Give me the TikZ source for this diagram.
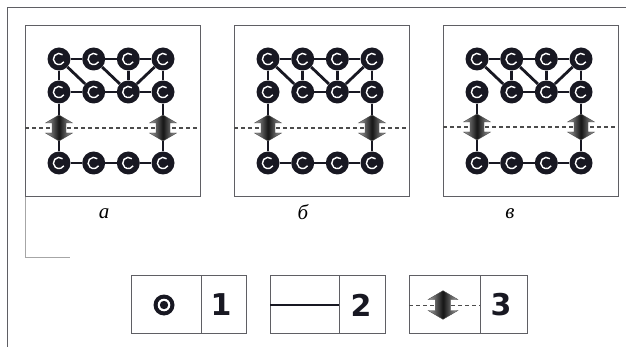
\documentclass[tikz,border=0pt]{standalone}
\usepackage{fontspec}
\setmainfont{Liberation Serif}
\newfontfamily\numfont{DejaVu Sans}
\definecolor{nodeblack}{RGB}{24,24,34}
\definecolor{frameg}{RGB}{95,95,100}
\tikzset{
  boxline/.style={draw=frameg, line width=0.9pt},
  dashline/.style={draw=black!70, line width=1.1pt, dash pattern=on 4pt off 3pt},
  vert/.style={circle, fill=nodeblack, minimum size=23pt, inner sep=0pt,
    path picture={\draw[white, line width=1.4pt]
      ([shift={(50:5.6pt)}]path picture bounding box.center) arc[start angle=50, end angle=330, radius=5.6pt];}},
  legsym/.style={circle, fill=nodeblack, minimum size=21pt, inner sep=0pt,
    path picture={\fill[white] (path picture bounding box.center) circle (6.3pt);
      \fill[nodeblack] (path picture bounding box.center) circle (4.2pt);}},
  link/.style={draw=nodeblack, line width=2.8pt},
  numlabel/.style={font=\numfont\bfseries\fontsize{30}{30}\selectfont, text=nodeblack, inner sep=0pt},
  letlabel/.style={font=\itshape\fontsize{21}{21}\selectfont, inner sep=0pt},
  darrow/.pic={
    \shade[left color=black!35, right color=black!35, middle color=black!92, draw=black!70, line width=0.4pt]
      (0,-13) -- (13.5,-5) -- (7,-5) -- (7,5) -- (13.5,5) -- (0,13) -- (-13.5,5) -- (-7,5) -- (-7,-5) -- (-13.5,-5) -- cycle;
    \coordinate (-top) at (0,-13);
    \coordinate (-bot) at (0,13);
  }
}
\newcommand\mkpanel[3]{%
  \begin{scope}[shift={(#2,0)}]
    \draw[boxline] (0,25) rectangle (175,196);
    \draw[dashline] (0,#3) -- (175,#3);
    \foreach \i/\xx in {1/34,2/68.7,3/103.3,4/138}{
      \node[vert] (#1t\i) at (\xx,59) {};
      \node[vert] (#1m\i) at (\xx,92) {};
      \node[vert] (#1b\i) at (\xx,163) {};
    }
    \pic (#1L) at (34,#3) {darrow};
    \pic (#1R) at (138,#3) {darrow};
  \end{scope}}
\newcommand\commonlinks[1]{%
  \draw[link] (#1t1) -- (#1t2) -- (#1t3) -- (#1t4);
  \draw[link] (#1m2) -- (#1m3);
  \draw[link] (#1m3) -- (#1m4);
  \draw[link] (#1t1) -- (#1m2);
  \draw[link] (#1t2) -- (#1m3);
  \draw[link] (#1t3) -- (#1m3);
  \draw[link] (#1t4) -- (#1m3);
  \draw[link] (#1t4) -- (#1m4);
  \draw[link] (#1m1) -- (#1L-top);
  \draw[link] (#1L-bot) -- (#1b1);
  \draw[link] (#1m4) -- (#1R-top);
  \draw[link] (#1R-bot) -- (#1b4);
  \draw[link] (#1b1) -- (#1b2);
  \draw[link] (#1b2) -- (#1b3);
  \draw[link] (#1b3) -- (#1b4);
}
\begin{document}
\begin{tikzpicture}[x=1pt,y=-1pt]
  \fill[white] (0,0) rectangle (626,347);
  \useasboundingbox (0,0) rectangle (626,347);
  % outer frame
  \draw[boxline] (7,347) -- (7,7) -- (626,7);
  % panel a extra frame piece
  \draw[draw=black!35, line width=0.8pt] (25,196) -- (25,257) -- (70,257);
  % panels
  \mkpanel{a}{25}{128}
  \mkpanel{b}{234}{128}
  \mkpanel{v}{443}{127}
  % panel a links
  \commonlinks{a}
  \draw[link] (am1) -- (am2);
  \draw[link] (at1) -- (am1);
  % panel b links
  \commonlinks{b}
  \draw[link] (bt2) -- (bm2);
  \draw[link] (bt1) -- (bm1);
  % panel v links
  \commonlinks{v}
  \draw[link] (vt2) -- (vm2);
  % labels
  \node[letlabel] (la) at (104,214) {а};
  \node[letlabel] (lb) at (303,212) {б};
  \node[letlabel] (lv) at (510,214) {в};
  % legend 1
  \draw[boxline] (131,275) rectangle (246,333);
  \draw[boxline] (201,275) -- (201,333);
  \node[legsym] (s1) at (164,305) {};
  \node[numlabel] (n1) at (221,305) {1};
  % legend 2
  \draw[boxline] (270,275) rectangle (385,333);
  \draw[boxline] (339,275) -- (339,333);
  \draw[draw=nodeblack, line width=2.4pt] (270,305) -- (339,305);
  \node[numlabel] (n2) at (361,305) {2};
  % legend 3
  \draw[boxline] (409,275) rectangle (527,333);
  \draw[boxline] (480,275) -- (480,333);
  \draw[dashline, line width=0.9pt] (409,305) -- (480,305);
  \pic[scale=1.1] (lg) at (443,305) {darrow};
  \node[numlabel] (n3) at (501,305) {3};
\end{tikzpicture}
\end{document}
